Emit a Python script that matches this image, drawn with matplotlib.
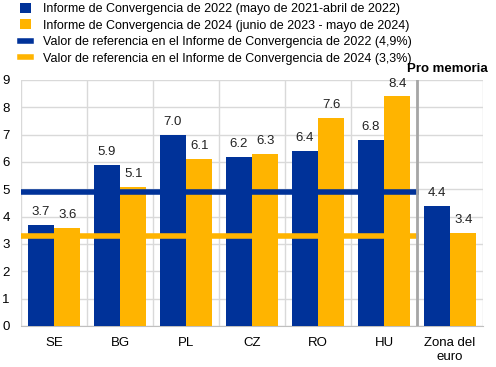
import matplotlib
matplotlib.use("Agg")
import matplotlib.pyplot as plt
import numpy as np
from matplotlib.lines import Line2D
from matplotlib.patches import Patch

plt.rcParams['font.family'] = ['Liberation Sans', 'DejaVu Sans']

categories = ["SE", "BG", "PL", "CZ", "RO", "HU", "Zona del\neuro"]
values_2022 = [3.7, 5.9, 7.0, 6.2, 6.4, 6.8, 4.4]
values_2024 = [3.6, 5.1, 6.1, 6.3, 7.6, 8.4, 3.4]
ref_2022 = 4.9
ref_2024 = 3.3
legend_labels = [
    "Informe de Convergencia de 2022 (mayo de 2021-abril de 2022)",
    "Informe de Convergencia de 2024 (junio de 2023 - mayo de 2024)",
    "Valor de referencia en el Informe de Convergencia de 2022 (4,9%)",
    "Valor de referencia en el Informe de Convergencia de 2024 (3,3%)",
]

BLUE = "#003299"
YELLOW = "#FFB400"

fig = plt.figure(figsize=(4.96, 3.67), dpi=100)
ax = fig.add_axes([21/496, 1-326/367, (483-21)/496, (326-80)/367])

x = np.arange(len(categories))
w = 0.4
ax.bar(x - w/2, values_2022, w, color=BLUE, zorder=3)
ax.bar(x + w/2, values_2024, w, color=YELLOW, zorder=3)

for xi, v in zip(x, values_2022):
    ax.text(xi - w/2, v + 0.25, f"{v:.1f}", ha="center", va="bottom", fontsize=9.5, color="#222222")
for xi, v in zip(x, values_2024):
    ax.text(xi + w/2, v + 0.25, f"{v:.1f}", ha="center", va="bottom", fontsize=9.5, color="#222222")

n_ref = len(categories) - 1
ax.plot([-0.5, n_ref - 0.5 + 0.03], [ref_2022, ref_2022], color=BLUE, lw=4, zorder=4, solid_capstyle="butt")
ax.plot([-0.5, n_ref - 0.5 + 0.03], [ref_2024, ref_2024], color=YELLOW, lw=4, zorder=4, solid_capstyle="butt")

ax.set_xlim(-0.5, len(categories) - 0.5)
ax.set_ylim(0, 9)
ax.set_yticks(range(0, 10))
ax.set_xticks(x)
ax.set_xticklabels(categories, fontsize=9.5)
ax.tick_params(axis="y", labelsize=9.5, length=0, pad=8)
ax.tick_params(axis="x", length=0, pad=8)

ax.set_xticks(np.arange(-0.5, len(categories) - 0.4, 1), minor=True)
ax.tick_params(axis="x", which="minor", length=0)
ax.grid(axis="y", which="major", color="#d9d9d9", lw=1, zorder=0)
ax.grid(axis="x", which="minor", color="#d9d9d9", lw=1, zorder=0)
ax.grid(axis="x", which="major", visible=False)
ax.axvline(n_ref - 0.5, color="#a6a6a6", lw=2, zorder=5)

for s in ["top", "right", "left"]:
    ax.spines[s].set_visible(False)
ax.spines["bottom"].set_color("#bfbfbf")

ax.text(1.01, 1.02, "Pro memoria", transform=ax.transAxes, ha="right", va="bottom",
        fontsize=9.5, fontweight="bold")

handles = [
    Patch(facecolor=BLUE, edgecolor="none"),
    Patch(facecolor=YELLOW, edgecolor="none"),
    Line2D([0], [0], color=BLUE, lw=4),
    Line2D([0], [0], color=YELLOW, lw=4),
]
fig.legend(handles, legend_labels, loc="upper left", bbox_to_anchor=(20/496, 0.992),
           frameon=False, fontsize=9, handlelength=0.85, handleheight=0.85,
           handletextpad=1.0, labelspacing=0.34, borderaxespad=0, borderpad=0)

fig.savefig("out.png", dpi=100)
